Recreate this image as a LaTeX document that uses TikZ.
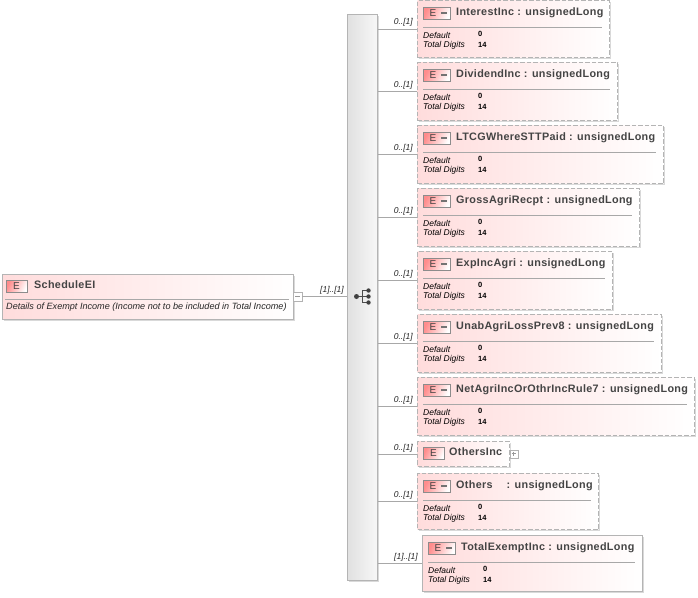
\documentclass[tikz,border=0pt]{standalone}
\usepackage{fontspec}
\setmainfont{Liberation Sans}
\newfontfamily\ttlfont[LetterSpace=3]{Liberation Sans}
\usetikzlibrary{shadows}
\definecolor{edge}{HTML}{B4B4B4}
\definecolor{pinkL}{HTML}{FFDCDC}
\definecolor{ink}{HTML}{444444}
\definecolor{linecol}{HTML}{A8A8A8}
\tikzset{
  x=1pt,y=-1pt,
  elbox/.style={draw=edge,line width=1pt,left color=pinkL,right color=white,inner sep=0pt,anchor=north west,
     drop shadow={shadow xshift=1.2pt,shadow yshift=-1.2pt,fill=black!15,opacity=1}},
  optbox/.style={elbox,dash pattern=on 4.5pt off 2pt},
  badge/.style={draw=black!45,line width=.7pt,left color=red!45!white,right color=white,shading angle=65,inner sep=0pt,anchor=north west,minimum height=12pt},
  ttl/.style={font=\ttlfont\bfseries\fontsize{10.8}{12}\selectfont,text=ink,anchor=west,inner sep=0pt},
  fac/.style={font=\itshape\fontsize{8.5}{10}\selectfont,text=black,anchor=west,inner sep=0pt},
  doc/.style={font=\itshape\fontsize{9.1}{10}\selectfont,text=black!85,anchor=west,inner sep=0pt},
  val/.style={font=\bfseries\fontsize{7.5}{8}\selectfont,text=black,anchor=west,inner sep=0pt},
  occ/.style={font=\itshape\fontsize{8.5}{10}\selectfont,text=black!85,anchor=east,inner sep=0pt},
  conn/.style={draw=linecol,line width=.8pt},
  toggle/.style={draw=black!30,fill=white,line width=.6pt,minimum size=8.5pt,inner sep=0pt,anchor=north west},
}
% name, x1, y1, width, height, title, style, occurrence
\newcommand{\elem}[8]{%
  \node[#7,minimum width=#4pt,minimum height=#5pt] (#1) at (#2,#3) {};
  \draw[conn] (bar.east |- #1.west) -- (#1.west);
  \node[occ] (#1occ) at ([xshift=-4pt,yshift=6.2pt]#1.west) {#8};
  \begin{scope}[shift={(#2,#3)}]
    \node[badge,minimum width=27pt] (#1b) at (6,7) {};
    \node[font=\fontsize{10}{12}\selectfont,text=ink,inner sep=0pt] (#1e) at (16,13) {E};
    \fill[black!55] (24,12) rectangle (30,14);
    \node[ttl] (#1t) at (39,12.5) {#6};
    \draw[draw=linecol,line width=.7pt] (6,27) -- ({#4-7},27);
    \node[fac] (#1d) at (6,35) {Default};
    \node[fac] (#1g) at (6,45) {Total Digits};
    \node[val] (#1dv) at (61,34.2) {0};
    \node[val] (#1gv) at (61,44.6) {14};
  \end{scope}
}
\begin{document}
\begin{tikzpicture}
\useasboundingbox (0,0) rectangle (698,597);
% sequence bar
\node[draw=edge,line width=1pt,left color=black!12,right color=black!3,minimum width=30pt,minimum height=566pt,inner sep=0pt,anchor=north west,
  drop shadow={shadow xshift=1.2pt,shadow yshift=-1.2pt,fill=black!15,opacity=1}] (bar) at (347,14) {};
% root
\node[elbox,minimum width=291pt,minimum height=45pt] (root) at (2,274) {};
\node[toggle] (rootm) at (293,292) {};
\draw[black!40,line width=.6pt] (295,296.2) -- (299.5,296.2);
\draw[conn] (rootm.east |- 0,296) -- (bar.west |- 0,296);
\node[occ] (rootocc) at (344,290) {[1]..[1]};
\node[badge,minimum width=21pt] (rootb) at (6,280) {};
\node[font=\fontsize{10}{12}\selectfont,text=ink,inner sep=0pt] (roote) at (16.5,286.5) {E};
\node[ttl] (roott) at (34,285) {ScheduleEI};
\draw[draw=linecol,line width=.7pt] (5,299) -- (289,299);
\node[doc] (rootdoc) at (6,307.5) {Details of Exempt Income (Income not to be included in Total Income)};
% hub icon
\draw[black!70,line width=1pt] (357,296.5) -- (369,296.5) (362,290.5) -- (362,302.5) (362,290.5) -- (369,290.5) (362,302.5) -- (369,302.5);
\fill[black!75] (356.5,296.5) circle (2.5) (368.5,290.5) circle (2.2) (368.5,296.5) circle (2.2) (368.5,302.5) circle (2.2);
% children
\elem{a}{417}{0}{192}{57}{InterestInc : unsignedLong}{optbox}{0..[1]}
\elem{b}{417}{62}{200}{58}{DividendInc : unsignedLong}{optbox}{0..[1]}
\elem{c}{417}{125}{246}{58}{LTCGWhereSTTPaid : unsignedLong}{optbox}{0..[1]}
\elem{d}{417}{188}{222}{58}{GrossAgriRecpt : unsignedLong}{optbox}{0..[1]}
\elem{e}{417}{251}{195}{58}{ExpIncAgri : unsignedLong}{optbox}{0..[1]}
\elem{f}{417}{314}{244}{58}{UnabAgriLossPrev8 : unsignedLong}{optbox}{0..[1]}
\elem{g}{417}{377}{277}{58}{NetAgriIncOrOthrIncRule7 : unsignedLong}{optbox}{0..[1]}
% OthersInc
\node[optbox,minimum width=92pt,minimum height=25pt] (h) at (417,441) {};
\draw[conn] (bar.east |- h.west) -- (h.west);
\node[occ] (hocc) at ([xshift=-4pt,yshift=6.2pt]h.west) {0..[1]};
\node[badge,minimum width=21pt] (hb) at (423,447) {};
\node[font=\fontsize{10}{12}\selectfont,text=ink,inner sep=0pt] (he) at (433.5,453.5) {E};
\node[ttl] (ht) at (449,452) {OthersInc};
\node[toggle] (hp) at (509.5,449.5) {};
\draw[black!40,line width=.6pt] (511.5,453.7) -- (516,453.7) (513.7,451.5) -- (513.7,456);
\elem{i}{417}{473}{181}{56}{Others\hspace{14pt}: unsignedLong}{optbox}{0..[1]}
\elem{j}{422}{535}{220}{56}{TotalExemptInc : unsignedLong}{elbox}{[1]..[1]}
\end{tikzpicture}
\end{document}
